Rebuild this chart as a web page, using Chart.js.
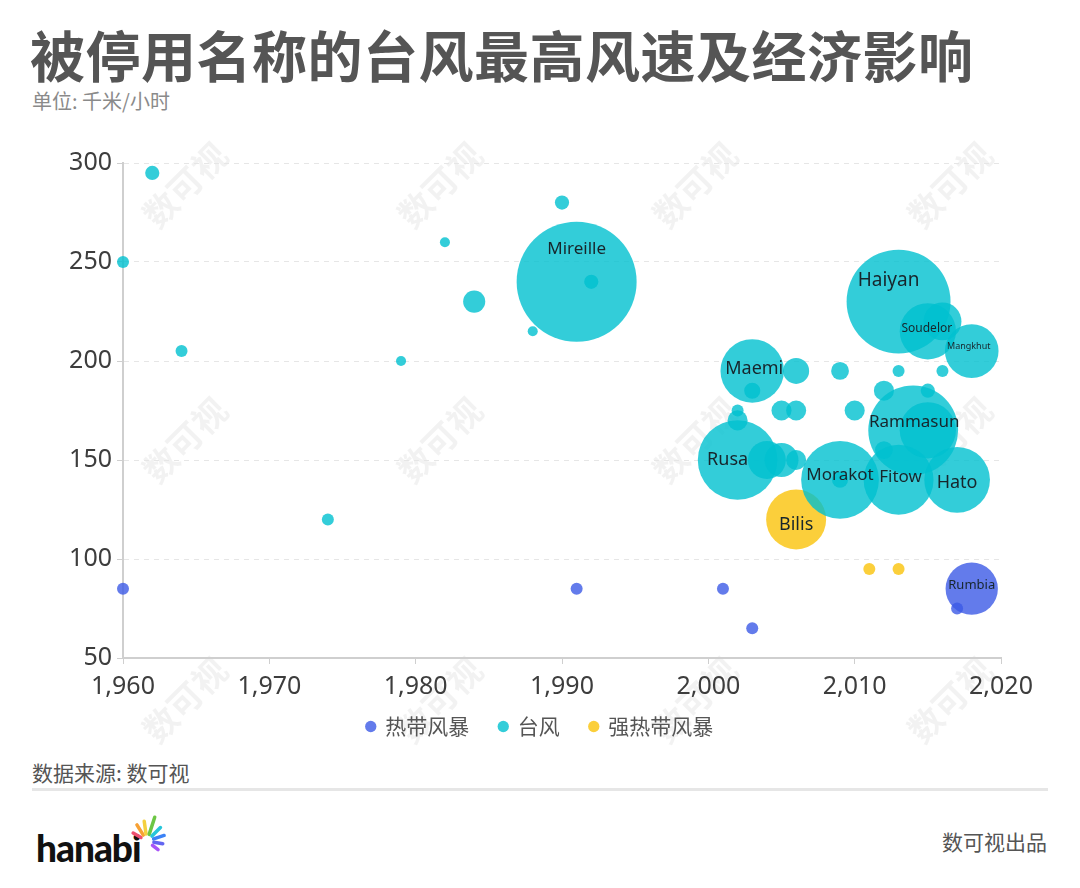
<!DOCTYPE html>
<html lang="zh">
<head>
<meta charset="utf-8">
<title>被停用名称的台风最高风速及经济影响</title>
<script src="https://cdn.jsdelivr.net/npm/chart.js@4.4.1/dist/chart.umd.min.js"></script>
<style>
  body { margin: 0; width: 1080px; height: 888px; background: #fff; position: relative; overflow: hidden;
         font-family: "Noto Sans CJK SC", "Noto Sans", sans-serif; }
  .title { position: absolute; left: 30px; top: 23px; font-size: 55px; font-weight: 700; color: #555;
           line-height: 60px; white-space: nowrap; letter-spacing: 0.5px; }
  .unit { position: absolute; left: 32px; top: 86px; font-size: 20px; color: #8a8a8a; }
  #wrap { position: absolute; left: 0; top: 103px; width: 1080px; height: 666px; }
  .source { position: absolute; left: 32px; top: 757px; font-size: 21px; color: #555; }
  .rule { position: absolute; left: 32px; top: 788px; width: 1016px; height: 3px; background: #e6e6e6; }
  .brand { position: absolute; right: 33px; top: 826px; font-size: 21px; color: #555; }
  .logo { position: absolute; left: 34px; top: 815px; }
</style>
</head>
<body>
<div class="title">被停用名称的台风最高风速及经济影响</div>
<div class="unit">单位: 千米/小时</div>
<div class="source">数据来源: 数可视</div>
<div class="rule"></div>
<div id="wrap"><canvas id="chart"></canvas></div>
<svg class="logo" width="150" height="60" viewBox="0 0 150 60">
  <text x="2" y="47" font-family="Lato" font-weight="900" font-size="37" fill="#111" letter-spacing="-1">hanabi</text>
  <g stroke-width="3.5" stroke-linecap="round" id="rays"></g>
</svg>
<div class="brand">数可视出品</div>

<script>
// 年份 / 最高风速(千米/小时) / 经济影响(相对值) / 名称
const stormYears  = [1960, 1991, 2001, 2003, 2018, 2017];
const stormSpeeds = [85, 85, 85, 65, 85, 75];
const stormLoss   = [1, 1, 1, 1, 19, 1];
const stormNames  = ["", "", "", "", "Rumbia", ""];

const typhoonYears  = [1960, 1962, 1964, 1974, 1979, 1982, 1984, 1988, 1990, 1991, 1992,
                       2002, 2002, 2002, 2003, 2003, 2004, 2005, 2005, 2006, 2006, 2006,
                       2009, 2009, 2009, 2010, 2012, 2012, 2013, 2013, 2013, 2014, 2015,
                       2015, 2015, 2016, 2016, 2017, 2018];
const typhoonSpeeds = [250, 295, 205, 120, 200, 260, 230, 215, 280, 240, 240,
                       175, 170, 150, 195, 185, 150, 150, 175, 175, 195, 150,
                       195, 140, 140, 175, 185, 155, 230, 195, 140, 165, 165,
                       185, 215, 220, 195, 140, 205];
const typhoonLoss   = [1, 1.4, 1, 1, 0.7, 0.7, 3.4, 0.7, 1.4, 100, 1.4,
                       1, 2.8, 44, 28, 1.8, 10, 8, 2.8, 2.8, 4.7, 2.8,
                       2.2, 42, 1.8, 2.8, 2.8, 2.2, 75, 1, 34, 56, 22,
                       1.4, 22, 10, 1, 30, 20];
const typhoonNames  = ["", "", "", "", "", "", "", "", "", "Mireille", "",
                       "", "", "Rusa", "Maemi", "", "", "", "", "", "", "",
                       "", "Morakot", "", "", "", "", "Haiyan", "", "Fitow", "Rammasun", "",
                       "", "Soudelor", "", "", "Hato", "Mangkhut"];

const severeYears  = [2006, 2011, 2013];
const severeSpeeds = [120, 95, 95];
const severeLoss   = [25, 1, 1];
const severeNames  = ["Bilis", "", ""];

const xTicks = [1960, 1970, 1980, 1990, 2000, 2010, 2020];
const yTicks = [50, 100, 150, 200, 250, 300];

// label tweaks (font size, offset) for named bubbles
const labelStyle = {
  Mireille: { size: 17, dx: 0, dy: -33 },
  Haiyan:   { size: 19, dx: -10, dy: -21 },
  Maemi:    { size: 18, dx: 2, dy: -2 },
  Rusa:     { size: 18, dx: -10, dy: 0 },
  Morakot:  { size: 17, dx: 0, dy: -5 },
  Fitow:    { size: 17, dx: 2, dy: -3 },
  Hato:     { size: 18, dx: 0, dy: 3 },
  Rammasun: { size: 17, dx: 1, dy: -8 },
  Bilis:    { size: 18, dx: 0, dy: 5 },
  Soudelor: { size: 12, dx: -1, dy: -3 },
  Mangkhut: { size: 9, dx: -3, dy: -5 },
  Rumbia:   { size: 13, dx: 0, dy: -3 }
};

function radius(v) {
  return Math.sqrt(v) * 6;
}

function toPoints(years, speeds, loss, names) {
  return years.map((yr, i) => ({ x: yr, y: speeds[i], r: radius(loss[i]), name: names[i] }));
}

function withComma(v) {
  return String(v).replace(/\B(?=(\d{3})+(?!\d))/g, ",");
}

const bubbleLabels = {
  id: "bubbleLabels",
  afterDatasetsDraw(chart) {
    const ctx = chart.ctx;
    ctx.save();
    ctx.textAlign = "center";
    ctx.textBaseline = "middle";
    ctx.fillStyle = "#17262c";
    chart.data.datasets.forEach((ds, i) => {
      const meta = chart.getDatasetMeta(i);
      ds.data.forEach((p, j) => {
        if (!p.name) return;
        const st = labelStyle[p.name] || { size: 16, dx: 0, dy: 0 };
        const el = meta.data[j];
        ctx.font = st.size + 'px "Noto Sans", sans-serif';
        ctx.fillText(p.name, el.x + st.dx, el.y + st.dy);
      });
    });
    ctx.restore();
  }
};

// faint "数可视" watermark pattern behind the chart
const watermark = {
  id: "watermark",
  beforeDraw(chart) {
    const ctx = chart.ctx;
    ctx.save();
    ctx.fillStyle = "rgba(0,0,0,0.05)";
    ctx.font = 'bold 34px "Noto Sans CJK SC", sans-serif';
    ctx.textAlign = "center";
    ctx.textBaseline = "middle";
    [185, 440, 695, 950].forEach(x => {
      [82, 337, 597].forEach(y => {
        ctx.save();
        ctx.translate(x, y);
        ctx.rotate(-Math.PI / 4);
        ctx.fillText("数可视", 0, 0);
        ctx.restore();
      });
    });
    ctx.restore();
  }
};

// centre the legend on the whole canvas and pull it up under the axis labels
const placeLegend = {
  id: "placeLegend",
  afterLayout(chart) {
    const lg = chart.legend;
    if (!lg) return;
    lg.left = 0;
    lg.right = chart.width;
    lg.width = chart.width;
    lg.top -= 22;
    lg.bottom -= 22;
  }
};

const tickFont = { family: "Noto Sans", size: 25 };

new Chart(document.getElementById("chart"), {
  type: "bubble",
  data: {
    datasets: [
      { label: "热带风暴", data: toPoints(stormYears, stormSpeeds, stormLoss, stormNames),
        backgroundColor: "rgba(60,90,230,0.8)", borderWidth: 0, clip: false },
      { label: "台风", data: toPoints(typhoonYears, typhoonSpeeds, typhoonLoss, typhoonNames),
        backgroundColor: "rgba(0,192,207,0.8)", borderWidth: 0, clip: false },
      { label: "强热带风暴", data: toPoints(severeYears, severeSpeeds, severeLoss, severeNames),
        backgroundColor: "rgba(250,195,10,0.8)", borderWidth: 0, clip: false }
    ]
  },
  options: {
    responsive: true,
    maintainAspectRatio: false,
    animation: false,
    layout: { padding: { top: 0, left: 30, right: 79, bottom: 0 } },
    plugins: {
      tooltip: { enabled: false },
      legend: {
        position: "bottom",
        labels: {
          usePointStyle: true,
          pointStyle: "circle",
          boxWidth: 8,
          boxHeight: 8,
          padding: 30,
          color: "#555",
          font: { family: "Noto Sans CJK SC", size: 21 }
        }
      }
    },
    scales: {
      x: {
        type: "linear",
        min: xTicks[0],
        max: xTicks[xTicks.length - 1],
        afterBuildTicks: s => { s.ticks = xTicks.map(v => ({ value: v })); },
        afterFit: s => { s.height = 50; },
        ticks: {
          font: tickFont, color: "#3d3d3d", padding: 8,
          callback: v => withComma(v)
        },
        grid: { drawOnChartArea: false, drawTicks: true, tickLength: 6, color: "#cfcfcf" },
        border: { display: true, color: "#cfcfcf", width: 2 }
      },
      y: {
        min: yTicks[0],
        max: yTicks[yTicks.length - 1],
        afterBuildTicks: s => { s.ticks = yTicks.map(v => ({ value: v })); },
        afterFit: s => { s.width = 93; },
        ticks: { font: tickFont, color: "#3d3d3d", padding: 5 },
        grid: { color: "#e6e6e6", tickColor: "#cfcfcf", tickLength: 6, tickBorderDash: [] },
        border: { display: true, color: "#cfcfcf", width: 2, dash: [5, 5] }
      }
    }
  },
  plugins: [watermark, bubbleLabels, placeLegend]
});

// logo rays
const rays = [[150, "#f0506e", 16], [122, "#f7a135", 19], [98, "#f4d03f", 20], [72, "#6cc644", 25],
              [45, "#26c6da", 19], [18, "#3b82f6", 18], [-10, "#6366f1", 16], [-38, "#a855f7", 14]];
const g = document.getElementById("rays");
rays.forEach(([deg, col, len]) => {
  const a = deg * Math.PI / 180;
  const cx = 113, cy = 26;
  const line = document.createElementNS("http://www.w3.org/2000/svg", "line");
  line.setAttribute("x1", cx + Math.cos(a) * 7);
  line.setAttribute("y1", cy - Math.sin(a) * 7);
  line.setAttribute("x2", cx + Math.cos(a) * len);
  line.setAttribute("y2", cy - Math.sin(a) * len);
  line.setAttribute("stroke", col);
  g.appendChild(line);
});
</script>
</body>
</html>
